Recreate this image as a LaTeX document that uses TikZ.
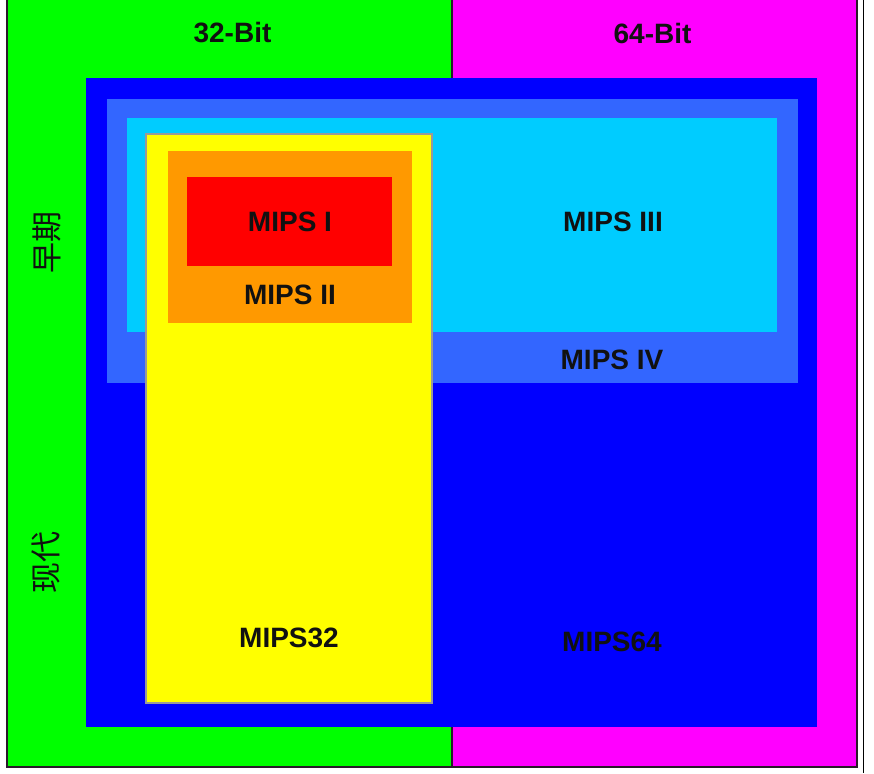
\documentclass[tikz,border=0pt]{standalone}
\usepackage{fontspec}
\setmainfont{Liberation Sans}
\newfontfamily\cjk{Noto Sans CJK SC}
\definecolor{cgreen}{HTML}{00FF00}
\definecolor{cmag}{HTML}{FF00FF}
\definecolor{cblue}{HTML}{0000FF}
\definecolor{croyal}{HTML}{3366FF}
\definecolor{ccyan}{HTML}{00CCFF}
\definecolor{cyellow}{HTML}{FFFF00}
\definecolor{corange}{HTML}{FF9900}
\definecolor{cred}{HTML}{FF0000}
\definecolor{cframe}{HTML}{2A1A2A}
\definecolor{ctext}{HTML}{111111}
\begin{document}
\begin{tikzpicture}[x=1pt,y=-1pt,
  lbl/.style={font=\fontsize{28}{30}\selectfont\bfseries, text=ctext, inner sep=0pt},
  side/.style={font=\cjk\fontsize{31}{31}\selectfont, text=ctext, inner sep=0pt, rotate=90}]
\useasboundingbox (0,0) rectangle (874,773);
\fill[white] (0,0) rectangle (874,773);
\fill[cgreen] (6.5,0) rectangle (452,766);
\fill[cmag] (452,0) rectangle (857,766);
\draw[line width=2pt, cframe] (6.5,-1) rectangle (857,766.5);
\draw[line width=2pt, cframe] (452,0) -- (452,78);
\draw[line width=1.5pt, cframe] (452,727) -- (452,766);
\fill[cblue] (86,78) rectangle (817,727);
\fill[croyal] (107,99) rectangle (798,383);
\fill[ccyan] (127,118) rectangle (777,332);
\filldraw[fill=cyellow, draw=gray!80, line width=1.5pt] (146,134) rectangle (432,703);
\fill[corange] (168,151) rectangle (412,323);
\fill[cred] (187,177) rectangle (392,266);
\draw[line width=1.2pt, black] (863.5,0) -- (863.5,773);
\node[lbl] (b32) at (232.5,33) {32-Bit};
\node[lbl] (b64) at (652.5,33) {64-Bit};
\node[lbl] (m1) at (290,222) {MIPS I};
\node[lbl] (m2) at (290,295) {MIPS II};
\node[lbl] (m3) at (613,222) {MIPS III};
\node[lbl] (m4) at (612,360) {MIPS IV};
\node[lbl] (m32) at (289,638) {MIPS32};
\node[lbl] (m64) at (612,642) {MIPS64};
\node[side] (early) at (47,242) {早期};
\node[side] (modern) at (46,562) {现代};
\end{tikzpicture}
\end{document}
